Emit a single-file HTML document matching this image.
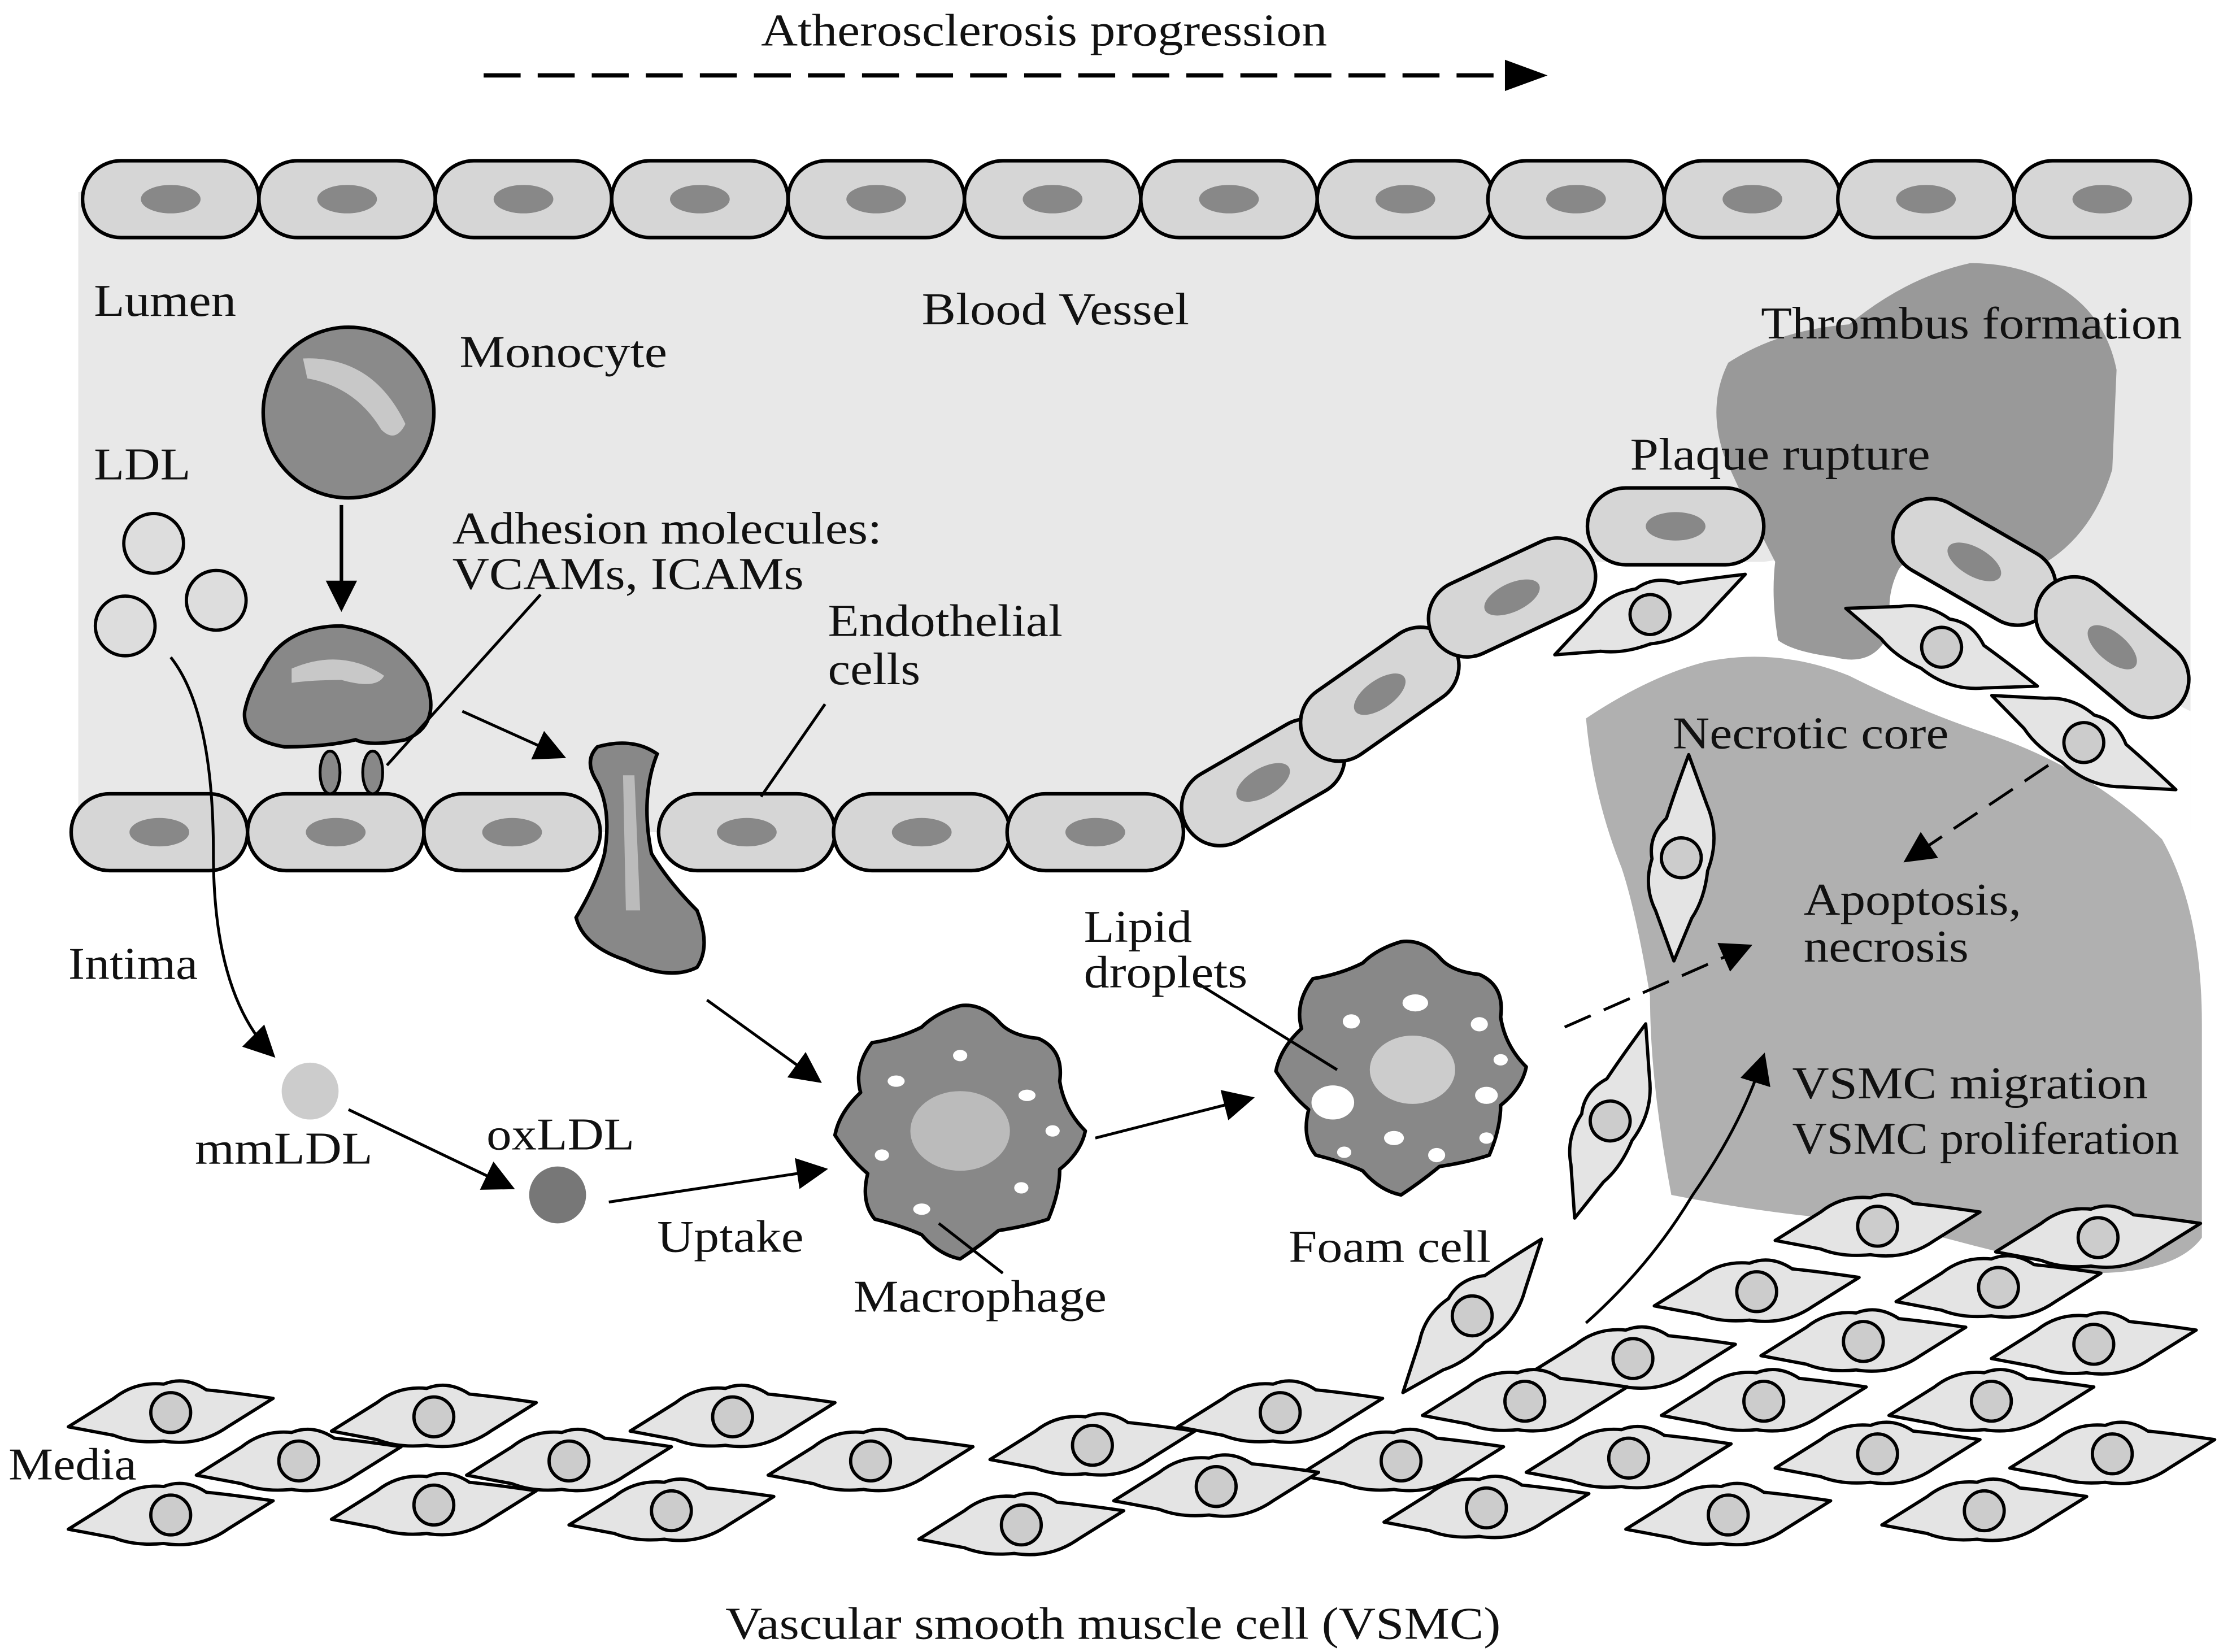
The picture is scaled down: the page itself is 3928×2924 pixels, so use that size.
<!DOCTYPE html>
<html><head><meta charset="utf-8"><style>html,body{margin:0;padding:0;background:#fff}svg{display:block}text{font-family:"Liberation Serif",serif;fill:#111}</style></head>
<body>
<svg width="3928" height="2924" viewBox="0 0 1560 1161.3" xmlns="http://www.w3.org/2000/svg">
<defs>
<marker id="ahb" viewBox="0 0 10 10" refX="9" refY="5" markerWidth="26" markerHeight="22" orient="auto" markerUnits="userSpaceOnUse"><path d="M0,0 L10,5 L0,10 z" fill="#000"/></marker>
<g id="ec"><rect x="-62" y="-27" width="124" height="54" rx="27" fill="#d6d6d6" stroke="#000" stroke-width="2.5"/><ellipse cx="0" cy="0" rx="21" ry="10" fill="#888"/></g>
<g id="sm"><path d="M-72,10 L-40,-10 Q-25,-22 -5,-20 Q10,-26 25,-16 Q45,-14 72,-10 L40,10 Q20,24 -5,20 Q-25,22 -40,16 Z" fill="#e4e4e4" stroke="#000" stroke-width="2.3" stroke-linejoin="round"/><circle cx="0" cy="0" r="14" fill="#ccc" stroke="#000" stroke-width="2.3"/></g>
<path id="mac" d="M763,795 Q748,780 745,760 Q748,738 730,730 Q710,728 702,718 Q690,705 675,707 Q658,712 648,722 Q632,730 613,733 Q600,750 605,768 Q590,782 587,798 Q598,815 610,825 Q605,845 615,857 Q635,862 648,868 Q660,882 675,885 Q690,875 702,865 Q722,862 737,857 Q745,838 745,822 Q760,810 763,795 Z" fill="#888" stroke="#000" stroke-width="2.5" stroke-linejoin="round"/>
</defs>

<g font-size="32" lengthAdjust="spacingAndGlyphs">
<text x="535" y="32" textLength="398" lengthAdjust="spacingAndGlyphs">Atherosclerosis progression</text>
</g>
<line x1="340" y1="53" x2="1062" y2="53" stroke="#000" stroke-width="3" stroke-dasharray="26,12"/>
<path d="M1058,42 L1088,53 L1058,64 z" fill="#000"/>

<!-- lumen -->
<rect x="55" y="135" width="1485" height="450" fill="#e8e8e8"/>
<path d="M830,588 Q900,530 960,480 Q1050,410 1120,395 L1240,395 Q1330,380 1420,430 Q1500,480 1540,500 L1540,600 L830,600 Z" fill="#fff"/>
<!-- thrombus -->
<path d="M1215,255 Q1250,232 1300,228 Q1340,195 1385,185 Q1420,185 1445,200 Q1480,220 1488,260 L1485,330 Q1470,380 1430,400 Q1395,410 1370,395 Q1345,385 1335,400 Q1325,420 1330,440 Q1320,470 1290,462 Q1260,458 1250,450 Q1245,420 1248,395 Q1225,350 1212,320 Q1200,285 1215,255 Z" fill="#999"/>
<!-- necrotic core -->
<path d="M1115,505 Q1160,475 1200,465 Q1250,455 1300,475 Q1350,500 1395,515 Q1470,540 1520,590 Q1548,640 1548,720 L1548,870 Q1530,895 1470,895 Q1400,880 1330,860 Q1250,855 1175,840 Q1160,760 1160,700 Q1150,640 1140,610 Q1120,560 1115,505 Z" fill="#b0b0b0"/>

<!-- top endothelium -->
<use href="#ec" x="120" y="140"/><use href="#ec" x="244" y="140"/><use href="#ec" x="368" y="140"/><use href="#ec" x="492" y="140"/><use href="#ec" x="616" y="140"/><use href="#ec" x="740" y="140"/><use href="#ec" x="864" y="140"/><use href="#ec" x="988" y="140"/><use href="#ec" x="1108" y="140"/><use href="#ec" x="1232" y="140"/><use href="#ec" x="1354" y="140"/><use href="#ec" x="1478" y="140"/>
<!-- bottom endothelium -->
<use href="#ec" x="112" y="585"/><use href="#ec" x="236" y="585"/><use href="#ec" x="360" y="585"/>
<use href="#ec" x="525" y="585"/><use href="#ec" x="648" y="585"/><use href="#ec" x="770" y="585"/>
<use href="#ec" transform="translate(888,550) rotate(-30)"/>
<use href="#ec" transform="translate(970,488) rotate(-35)"/>
<use href="#ec" transform="translate(1063,420) rotate(-25)"/>
<use href="#ec" transform="translate(1178,370)"/>
<use href="#ec" transform="translate(1388,395) rotate(30)"/>
<use href="#ec" transform="translate(1485,455) rotate(40)"/>

<!-- monocyte -->
<circle cx="245" cy="290" r="60" fill="#8a8a8a" stroke="#000" stroke-width="2.5"/>
<path d="M213,252 Q262,250 285,298 Q278,312 268,302 Q250,272 216,266 Z" fill="#c8c8c8"/>
<line x1="240" y1="355" x2="240" y2="428" stroke="#000" stroke-width="2.5" marker-end="url(#ahb)"/>
<!-- adhering monocyte -->
<path d="M185,470 Q200,440 240,440 Q280,445 300,480 Q310,510 285,520 Q260,525 250,520 Q230,525 200,525 Q170,520 172,500 Q175,485 185,470 Z" fill="#888" stroke="#000" stroke-width="2.5"/>
<path d="M205,470 Q240,455 270,475 Q265,485 240,478 Q220,478 205,480 Z" fill="#c8c8c8"/>
<ellipse cx="232" cy="543" rx="7" ry="15" fill="#888" stroke="#000" stroke-width="2"/>
<ellipse cx="262" cy="543" rx="7" ry="15" fill="#888" stroke="#000" stroke-width="2"/>
<!-- transmigrating monocyte -->
<path d="M420,525 Q445,518 462,530 Q450,560 458,600 Q470,620 490,640 Q500,665 490,680 Q470,690 440,675 Q410,665 405,645 Q420,620 425,600 Q430,570 420,550 Q410,535 420,525 Z" fill="#888" stroke="#000" stroke-width="2.5"/>
<path d="M438,545 L446,545 L450,640 L440,640 Z" fill="#bbb"/>

<!-- LDL -->
<circle cx="108" cy="382" r="21" fill="#ddd" stroke="#000" stroke-width="2.3"/>
<circle cx="88" cy="440" r="21" fill="#ddd" stroke="#000" stroke-width="2.3"/>
<circle cx="152" cy="422" r="21" fill="#ddd" stroke="#000" stroke-width="2.3"/>
<path d="M120,462 Q150,500 150,600 Q150,700 192,742" fill="none" stroke="#000" stroke-width="2" marker-end="url(#ahb)"/>
<circle cx="218" cy="767" r="20" fill="#ccc"/>
<circle cx="392" cy="840" r="20" fill="#777"/>
<line x1="245" y1="780" x2="360" y2="835" stroke="#000" stroke-width="2" marker-end="url(#ahb)"/>
<line x1="428" y1="845" x2="580" y2="822" stroke="#000" stroke-width="2" marker-end="url(#ahb)"/>
<line x1="325" y1="500" x2="396" y2="532" stroke="#000" stroke-width="2" marker-end="url(#ahb)"/>
<line x1="497" y1="703" x2="576" y2="760" stroke="#000" stroke-width="2" marker-end="url(#ahb)"/>

<!-- macrophage -->
<use href="#mac"/>
<ellipse cx="675" cy="795" rx="35" ry="28" fill="#bbb"/>
<g fill="#fff"><ellipse cx="630" cy="760" rx="6" ry="4"/><ellipse cx="722" cy="770" rx="6" ry="4"/><ellipse cx="740" cy="795" rx="5" ry="4"/><ellipse cx="620" cy="812" rx="5" ry="4"/><ellipse cx="648" cy="850" rx="6" ry="4"/><ellipse cx="718" cy="835" rx="5" ry="4"/><ellipse cx="675" cy="742" rx="5" ry="4"/></g>
<line x1="770" y1="800" x2="880" y2="772" stroke="#000" stroke-width="2" marker-end="url(#ahb)"/>
<!-- foam cell -->
<use href="#mac" transform="translate(310,-45)"/>
<ellipse cx="993" cy="752" rx="30" ry="24" fill="#ccc"/>
<g fill="#fff"><ellipse cx="937" cy="775" rx="15" ry="12"/><ellipse cx="995" cy="705" rx="9" ry="6"/><ellipse cx="950" cy="718" rx="6" ry="5"/><ellipse cx="1045" cy="770" rx="8" ry="6"/><ellipse cx="1040" cy="720" rx="6" ry="5"/><ellipse cx="980" cy="800" rx="7" ry="5"/><ellipse cx="1010" cy="812" rx="6" ry="5"/><ellipse cx="945" cy="810" rx="5" ry="4"/><ellipse cx="1045" cy="800" rx="5" ry="4"/><ellipse cx="1055" cy="745" rx="5" ry="4"/></g>
<line x1="1100" y1="722" x2="1230" y2="665" stroke="#000" stroke-width="2" stroke-dasharray="20,10" marker-end="url(#ahb)"/>
<line x1="1440" y1="538" x2="1340" y2="605" stroke="#000" stroke-width="2" stroke-dasharray="20,10" marker-end="url(#ahb)"/>
<path d="M1115,930 Q1160,890 1190,840 Q1225,790 1240,742" fill="none" stroke="#000" stroke-width="2" marker-end="url(#ahb)"/>

<!-- label lines -->
<line x1="380" y1="418" x2="272" y2="538" stroke="#000" stroke-width="2"/>
<line x1="580" y1="495" x2="535" y2="560" stroke="#000" stroke-width="2"/>
<line x1="840" y1="690" x2="940" y2="752" stroke="#000" stroke-width="2"/>
<line x1="660" y1="860" x2="705" y2="895" stroke="#000" stroke-width="2"/>

<!-- plaque VSMCs -->
<use href="#sm" transform="translate(1160,432) rotate(-15)"/>
<use href="#sm" transform="translate(1365,455) rotate(30)"/>
<use href="#sm" transform="translate(1465,522) rotate(35)"/>
<use href="#sm" transform="translate(1182,603) rotate(-78)"/>
<use href="#sm" transform="translate(1132,788) rotate(-62)"/>
<use href="#sm" transform="translate(1035,925) rotate(-40)"/>
<use href="#sm" transform="translate(1320,862)"/><use href="#sm" transform="translate(1475,870)"/>
<use href="#sm" transform="translate(1235,908)"/><use href="#sm" transform="translate(1405,905)"/>
<use href="#sm" transform="translate(1310,943)"/><use href="#sm" transform="translate(1472,945)"/>
<use href="#sm" transform="translate(1148,955)"/>
<!-- media -->
<use href="#sm" x="120" y="993"/><use href="#sm" x="305" y="996"/><use href="#sm" x="515" y="996"/><use href="#sm" x="900" y="993"/><use href="#sm" x="1072" y="985"/><use href="#sm" x="1240" y="985"/><use href="#sm" x="1400" y="985"/>
<use href="#sm" x="210" y="1027"/><use href="#sm" x="400" y="1027"/><use href="#sm" x="612" y="1027"/><use href="#sm" x="768" y="1016"/><use href="#sm" x="985" y="1027"/><use href="#sm" x="1145" y="1025"/><use href="#sm" x="1320" y="1022"/><use href="#sm" x="1485" y="1022"/>
<use href="#sm" x="120" y="1065"/><use href="#sm" x="305" y="1058"/><use href="#sm" x="472" y="1062"/><use href="#sm" x="718" y="1072"/><use href="#sm" x="855" y="1045"/><use href="#sm" x="1045" y="1060"/><use href="#sm" x="1215" y="1065"/><use href="#sm" x="1395" y="1062"/>

<!-- labels -->
<g font-size="32">
<text x="66" y="222" textLength="100" lengthAdjust="spacingAndGlyphs">Lumen</text>
<text x="648" y="228" textLength="188" lengthAdjust="spacingAndGlyphs">Blood Vessel</text>
<text x="323" y="258" textLength="146" lengthAdjust="spacingAndGlyphs">Monocyte</text>
<text x="1238" y="238" textLength="296" lengthAdjust="spacingAndGlyphs">Thrombus formation</text>
<text x="66" y="337" textLength="68" lengthAdjust="spacingAndGlyphs">LDL</text>
<text x="1146" y="330" textLength="211" lengthAdjust="spacingAndGlyphs">Plaque rupture</text>
<text x="318" y="382" textLength="302" lengthAdjust="spacingAndGlyphs">Adhesion molecules:</text>
<text x="318" y="414" textLength="247" lengthAdjust="spacingAndGlyphs">VCAMs, ICAMs</text>
<text x="582" y="447" textLength="165" lengthAdjust="spacingAndGlyphs">Endothelial</text>
<text x="582" y="481" textLength="65" lengthAdjust="spacingAndGlyphs">cells</text>
<text x="1176" y="526" textLength="194" lengthAdjust="spacingAndGlyphs">Necrotic core</text>
<text x="1268" y="643" textLength="153" lengthAdjust="spacingAndGlyphs">Apoptosis,</text>
<text x="1268" y="676" textLength="116" lengthAdjust="spacingAndGlyphs">necrosis</text>
<text x="762" y="662" textLength="76" lengthAdjust="spacingAndGlyphs">Lipid</text>
<text x="762" y="694" textLength="115" lengthAdjust="spacingAndGlyphs">droplets</text>
<text x="48" y="688" textLength="91" lengthAdjust="spacingAndGlyphs">Intima</text>
<text x="1260" y="772" textLength="250" lengthAdjust="spacingAndGlyphs">VSMC migration</text>
<text x="1260" y="811" textLength="272" lengthAdjust="spacingAndGlyphs">VSMC proliferation</text>
<text x="342" y="808" textLength="104" lengthAdjust="spacingAndGlyphs">oxLDL</text>
<text x="137" y="818" textLength="125" lengthAdjust="spacingAndGlyphs">mmLDL</text>
<text x="462" y="880" textLength="103" lengthAdjust="spacingAndGlyphs">Uptake</text>
<text x="906" y="887" textLength="142" lengthAdjust="spacingAndGlyphs">Foam cell</text>
<text x="600" y="922" textLength="178" lengthAdjust="spacingAndGlyphs">Macrophage</text>
<text x="6" y="1040" textLength="90" lengthAdjust="spacingAndGlyphs">Media</text>
<text x="510" y="1152" textLength="545" lengthAdjust="spacingAndGlyphs">Vascular smooth muscle cell (VSMC)</text>
</g>
</svg>
</body></html>
